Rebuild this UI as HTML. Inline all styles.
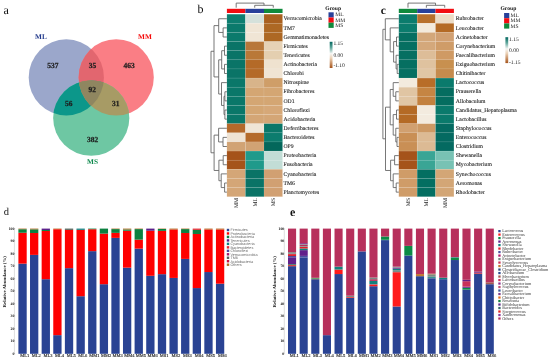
<!DOCTYPE html>
<html><head><meta charset="utf-8"><title>Figure</title>
<style>
html,body{margin:0;padding:0;background:#fff;}
body{width:550px;height:362px;overflow:hidden;}
svg{display:block;will-change:transform;text-rendering:geometricPrecision;font-family:"Liberation Serif", serif;}
</style></head>
<body>
<svg width="550" height="362" viewBox="0 0 550 362">
<rect width="550" height="362" fill="#fff"/>
<defs><clipPath id="cML"><ellipse cx="66.3" cy="77.4" rx="37.6" ry="38.1" fill="#000" /></clipPath><clipPath id="cMM"><ellipse cx="116.2" cy="77.4" rx="37.6" ry="38.2" fill="#000" /></clipPath><clipPath id="cMS"><ellipse cx="91.25" cy="118.1" rx="38.1" ry="37.7" fill="#000" /></clipPath></defs>
<ellipse cx="66.3" cy="77.4" rx="37.6" ry="38.1" fill="#9ba7cb" />
<ellipse cx="116.2" cy="77.4" rx="37.6" ry="38.2" fill="#fa7e85" />
<ellipse cx="91.25" cy="118.1" rx="38.1" ry="37.7" fill="#6ec7a3" />
<g clip-path="url(#cML)"><ellipse cx="116.2" cy="77.4" rx="37.6" ry="38.2" fill="#e2666f" /><ellipse cx="91.25" cy="118.1" rx="38.1" ry="37.7" fill="#0c978a" /></g>
<g clip-path="url(#cMM)"><ellipse cx="91.25" cy="118.1" rx="38.1" ry="37.7" fill="#a79b65" /></g>
<g clip-path="url(#cML)"><g clip-path="url(#cMM)"><ellipse cx="91.25" cy="118.1" rx="38.1" ry="37.7" fill="#8f8660" /></g></g>
<text transform="translate(52.9,68.0) scale(0.97,1)" text-anchor="middle" font-size="7.7" font-weight="bold" fill="#1e1e1e" stroke="#1e1e1e" stroke-width="0.25">537</text>
<text transform="translate(92.4,68.3) scale(0.97,1)" text-anchor="middle" font-size="7.7" font-weight="bold" fill="#1e1e1e" stroke="#1e1e1e" stroke-width="0.25">35</text>
<text transform="translate(129.1,68.4) scale(0.97,1)" text-anchor="middle" font-size="7.7" font-weight="bold" fill="#1e1e1e" stroke="#1e1e1e" stroke-width="0.25">463</text>
<text transform="translate(92.2,92.0) scale(0.97,1)" text-anchor="middle" font-size="7.7" font-weight="bold" fill="#1e1e1e" stroke="#1e1e1e" stroke-width="0.25">92</text>
<text transform="translate(68.8,106.2) scale(0.97,1)" text-anchor="middle" font-size="7.7" font-weight="bold" fill="#1e1e1e" stroke="#1e1e1e" stroke-width="0.25">56</text>
<text transform="translate(115.8,106.2) scale(0.97,1)" text-anchor="middle" font-size="7.7" font-weight="bold" fill="#1e1e1e" stroke="#1e1e1e" stroke-width="0.25">31</text>
<text transform="translate(92.6,141.8) scale(0.97,1)" text-anchor="middle" font-size="7.7" font-weight="bold" fill="#1e1e1e" stroke="#1e1e1e" stroke-width="0.25">382</text>
<text x="40.9" y="38.6" text-anchor="middle" font-size="7.3" font-weight="bold" fill="#233a8c">ML</text>
<text x="145.0" y="38.5" text-anchor="middle" font-size="7.3" font-weight="bold" fill="#f50a0a">MM</text>
<text x="92.6" y="163.8" text-anchor="middle" font-size="7.3" font-weight="bold" fill="#0f8a4e">MS</text>
<text x="3.6" y="13.8" font-size="12" fill="#111">a</text>
<text x="197.6" y="13.4" font-size="12" fill="#111">b</text>
<text x="380.8" y="13.5" font-size="11.5" font-weight="bold" fill="#111">c</text>
<text x="3.7" y="215.2" font-size="10.5" fill="#111">d</text>
<text x="290" y="215.7" font-size="12" font-weight="bold" fill="#111">e</text>
<rect x="226.90" y="8.8" width="18.55" height="4.2" fill="#f20d12"/>
<rect x="245.45" y="8.8" width="18.55" height="4.2" fill="#28409a"/>
<rect x="264.00" y="8.8" width="18.55" height="4.2" fill="#0f8a3c"/>
<rect x="226.90" y="14.20" width="18.55" height="9.12" fill="#0d7e70" stroke="rgba(255,255,255,0.16)" stroke-width="0.5"/>
<rect x="245.45" y="14.20" width="18.55" height="9.12" fill="#d5e1db" stroke="rgba(255,255,255,0.16)" stroke-width="0.5"/>
<rect x="264.00" y="14.20" width="18.55" height="9.12" fill="#a9601f" stroke="rgba(255,255,255,0.16)" stroke-width="0.5"/>
<text x="283.5" y="20.46" font-size="5.7" fill="#2a2a2a" stroke="#2a2a2a" stroke-width="0.12">Verrucomicrobia</text>
<rect x="226.90" y="23.32" width="18.55" height="9.12" fill="#0b7a6c" stroke="rgba(255,255,255,0.16)" stroke-width="0.5"/>
<rect x="245.45" y="23.32" width="18.55" height="9.12" fill="#f0e5d5" stroke="rgba(255,255,255,0.16)" stroke-width="0.5"/>
<rect x="264.00" y="23.32" width="18.55" height="9.12" fill="#ad6824" stroke="rgba(255,255,255,0.16)" stroke-width="0.5"/>
<text x="283.5" y="29.59" font-size="5.7" fill="#2a2a2a" stroke="#2a2a2a" stroke-width="0.12">TM7</text>
<rect x="226.90" y="32.45" width="18.55" height="9.12" fill="#0b7a6c" stroke="rgba(255,255,255,0.16)" stroke-width="0.5"/>
<rect x="245.45" y="32.45" width="18.55" height="9.12" fill="#f0e5d5" stroke="rgba(255,255,255,0.16)" stroke-width="0.5"/>
<rect x="264.00" y="32.45" width="18.55" height="9.12" fill="#ad6824" stroke="rgba(255,255,255,0.16)" stroke-width="0.5"/>
<text x="283.5" y="38.71" font-size="5.7" fill="#2a2a2a" stroke="#2a2a2a" stroke-width="0.12">Gemmatimonadetes</text>
<rect x="226.90" y="41.58" width="18.55" height="9.12" fill="#0a7467" stroke="rgba(255,255,255,0.16)" stroke-width="0.5"/>
<rect x="245.45" y="41.58" width="18.55" height="9.12" fill="#b8773a" stroke="rgba(255,255,255,0.16)" stroke-width="0.5"/>
<rect x="264.00" y="41.58" width="18.55" height="9.12" fill="#e6d2b6" stroke="rgba(255,255,255,0.16)" stroke-width="0.5"/>
<text x="283.5" y="47.84" font-size="5.7" fill="#2a2a2a" stroke="#2a2a2a" stroke-width="0.12">Firmicutes</text>
<rect x="226.90" y="50.70" width="18.55" height="9.12" fill="#0a7467" stroke="rgba(255,255,255,0.16)" stroke-width="0.5"/>
<rect x="245.45" y="50.70" width="18.55" height="9.12" fill="#b97838" stroke="rgba(255,255,255,0.16)" stroke-width="0.5"/>
<rect x="264.00" y="50.70" width="18.55" height="9.12" fill="#e4cfb0" stroke="rgba(255,255,255,0.16)" stroke-width="0.5"/>
<text x="283.5" y="56.96" font-size="5.7" fill="#2a2a2a" stroke="#2a2a2a" stroke-width="0.12">Tenericutes</text>
<rect x="226.90" y="59.83" width="18.55" height="9.12" fill="#0a7467" stroke="rgba(255,255,255,0.16)" stroke-width="0.5"/>
<rect x="245.45" y="59.83" width="18.55" height="9.12" fill="#b46a28" stroke="rgba(255,255,255,0.16)" stroke-width="0.5"/>
<rect x="264.00" y="59.83" width="18.55" height="9.12" fill="#efe2cf" stroke="rgba(255,255,255,0.16)" stroke-width="0.5"/>
<text x="283.5" y="66.09" font-size="5.7" fill="#2a2a2a" stroke="#2a2a2a" stroke-width="0.12">Actinobacteria</text>
<rect x="226.90" y="68.95" width="18.55" height="9.12" fill="#0a7467" stroke="rgba(255,255,255,0.16)" stroke-width="0.5"/>
<rect x="245.45" y="68.95" width="18.55" height="9.12" fill="#b46a28" stroke="rgba(255,255,255,0.16)" stroke-width="0.5"/>
<rect x="264.00" y="68.95" width="18.55" height="9.12" fill="#f0e4d3" stroke="rgba(255,255,255,0.16)" stroke-width="0.5"/>
<text x="283.5" y="75.21" font-size="5.7" fill="#2a2a2a" stroke="#2a2a2a" stroke-width="0.12">Chlorobi</text>
<rect x="226.90" y="78.08" width="18.55" height="9.12" fill="#0a7769" stroke="rgba(255,255,255,0.16)" stroke-width="0.5"/>
<rect x="245.45" y="78.08" width="18.55" height="9.12" fill="#d8b48a" stroke="rgba(255,255,255,0.16)" stroke-width="0.5"/>
<rect x="264.00" y="78.08" width="18.55" height="9.12" fill="#cf9e68" stroke="rgba(255,255,255,0.16)" stroke-width="0.5"/>
<text x="283.5" y="84.34" font-size="5.7" fill="#2a2a2a" stroke="#2a2a2a" stroke-width="0.12">Nitrospirae</text>
<rect x="226.90" y="87.20" width="18.55" height="9.12" fill="#0a7769" stroke="rgba(255,255,255,0.16)" stroke-width="0.5"/>
<rect x="245.45" y="87.20" width="18.55" height="9.12" fill="#d4a673" stroke="rgba(255,255,255,0.16)" stroke-width="0.5"/>
<rect x="264.00" y="87.20" width="18.55" height="9.12" fill="#d4a673" stroke="rgba(255,255,255,0.16)" stroke-width="0.5"/>
<text x="283.5" y="93.46" font-size="5.7" fill="#2a2a2a" stroke="#2a2a2a" stroke-width="0.12">Fibrobacteres</text>
<rect x="226.90" y="96.33" width="18.55" height="9.12" fill="#0a7769" stroke="rgba(255,255,255,0.16)" stroke-width="0.5"/>
<rect x="245.45" y="96.33" width="18.55" height="9.12" fill="#d4a673" stroke="rgba(255,255,255,0.16)" stroke-width="0.5"/>
<rect x="264.00" y="96.33" width="18.55" height="9.12" fill="#d4a673" stroke="rgba(255,255,255,0.16)" stroke-width="0.5"/>
<text x="283.5" y="102.59" font-size="5.7" fill="#2a2a2a" stroke="#2a2a2a" stroke-width="0.12">OD1</text>
<rect x="226.90" y="105.45" width="18.55" height="9.12" fill="#0a7769" stroke="rgba(255,255,255,0.16)" stroke-width="0.5"/>
<rect x="245.45" y="105.45" width="18.55" height="9.12" fill="#d4a673" stroke="rgba(255,255,255,0.16)" stroke-width="0.5"/>
<rect x="264.00" y="105.45" width="18.55" height="9.12" fill="#d6a878" stroke="rgba(255,255,255,0.16)" stroke-width="0.5"/>
<text x="283.5" y="111.71" font-size="5.7" fill="#2a2a2a" stroke="#2a2a2a" stroke-width="0.12">Chloroflexi</text>
<rect x="226.90" y="114.58" width="18.55" height="9.12" fill="#0a7769" stroke="rgba(255,255,255,0.16)" stroke-width="0.5"/>
<rect x="245.45" y="114.58" width="18.55" height="9.12" fill="#d4a676" stroke="rgba(255,255,255,0.16)" stroke-width="0.5"/>
<rect x="264.00" y="114.58" width="18.55" height="9.12" fill="#d4a676" stroke="rgba(255,255,255,0.16)" stroke-width="0.5"/>
<text x="283.5" y="120.84" font-size="5.7" fill="#2a2a2a" stroke="#2a2a2a" stroke-width="0.12">Acidobacteria</text>
<rect x="226.90" y="123.70" width="18.55" height="9.12" fill="#b3692b" stroke="rgba(255,255,255,0.16)" stroke-width="0.5"/>
<rect x="245.45" y="123.70" width="18.55" height="9.12" fill="#efe5d6" stroke="rgba(255,255,255,0.16)" stroke-width="0.5"/>
<rect x="264.00" y="123.70" width="18.55" height="9.12" fill="#0a7769" stroke="rgba(255,255,255,0.16)" stroke-width="0.5"/>
<text x="283.5" y="129.96" font-size="5.7" fill="#2a2a2a" stroke="#2a2a2a" stroke-width="0.12">Deferribacteres</text>
<rect x="226.90" y="132.82" width="18.55" height="9.12" fill="#efe3d3" stroke="rgba(255,255,255,0.16)" stroke-width="0.5"/>
<rect x="245.45" y="132.82" width="18.55" height="9.12" fill="#b46a2a" stroke="rgba(255,255,255,0.16)" stroke-width="0.5"/>
<rect x="264.00" y="132.82" width="18.55" height="9.12" fill="#0c7c6e" stroke="rgba(255,255,255,0.16)" stroke-width="0.5"/>
<text x="283.5" y="139.09" font-size="5.7" fill="#2a2a2a" stroke="#2a2a2a" stroke-width="0.12">Bacteroidetes</text>
<rect x="226.90" y="141.95" width="18.55" height="9.12" fill="#d1a374" stroke="rgba(255,255,255,0.16)" stroke-width="0.5"/>
<rect x="245.45" y="141.95" width="18.55" height="9.12" fill="#d1a374" stroke="rgba(255,255,255,0.16)" stroke-width="0.5"/>
<rect x="264.00" y="141.95" width="18.55" height="9.12" fill="#03675b" stroke="rgba(255,255,255,0.16)" stroke-width="0.5"/>
<text x="283.5" y="148.21" font-size="5.7" fill="#2a2a2a" stroke="#2a2a2a" stroke-width="0.12">OP9</text>
<rect x="226.90" y="151.07" width="18.55" height="9.12" fill="#a5531a" stroke="rgba(255,255,255,0.16)" stroke-width="0.5"/>
<rect x="245.45" y="151.07" width="18.55" height="9.12" fill="#1f9a8b" stroke="rgba(255,255,255,0.16)" stroke-width="0.5"/>
<rect x="264.00" y="151.07" width="18.55" height="9.12" fill="#c2ddd6" stroke="rgba(255,255,255,0.16)" stroke-width="0.5"/>
<text x="283.5" y="157.34" font-size="5.7" fill="#2a2a2a" stroke="#2a2a2a" stroke-width="0.12">Proteobacteria</text>
<rect x="226.90" y="160.20" width="18.55" height="9.12" fill="#a5531a" stroke="rgba(255,255,255,0.16)" stroke-width="0.5"/>
<rect x="245.45" y="160.20" width="18.55" height="9.12" fill="#1f9a8b" stroke="rgba(255,255,255,0.16)" stroke-width="0.5"/>
<rect x="264.00" y="160.20" width="18.55" height="9.12" fill="#c2ddd6" stroke="rgba(255,255,255,0.16)" stroke-width="0.5"/>
<text x="283.5" y="166.46" font-size="5.7" fill="#2a2a2a" stroke="#2a2a2a" stroke-width="0.12">Fusobacteria</text>
<rect x="226.90" y="169.32" width="18.55" height="9.12" fill="#d4a677" stroke="rgba(255,255,255,0.16)" stroke-width="0.5"/>
<rect x="245.45" y="169.32" width="18.55" height="9.12" fill="#0a7366" stroke="rgba(255,255,255,0.16)" stroke-width="0.5"/>
<rect x="264.00" y="169.32" width="18.55" height="9.12" fill="#d1a072" stroke="rgba(255,255,255,0.16)" stroke-width="0.5"/>
<text x="283.5" y="175.59" font-size="5.7" fill="#2a2a2a" stroke="#2a2a2a" stroke-width="0.12">Cyanobacteria</text>
<rect x="226.90" y="178.45" width="18.55" height="9.12" fill="#d4a677" stroke="rgba(255,255,255,0.16)" stroke-width="0.5"/>
<rect x="245.45" y="178.45" width="18.55" height="9.12" fill="#0a7366" stroke="rgba(255,255,255,0.16)" stroke-width="0.5"/>
<rect x="264.00" y="178.45" width="18.55" height="9.12" fill="#d1a072" stroke="rgba(255,255,255,0.16)" stroke-width="0.5"/>
<text x="283.5" y="184.71" font-size="5.7" fill="#2a2a2a" stroke="#2a2a2a" stroke-width="0.12">TM6</text>
<rect x="226.90" y="187.57" width="18.55" height="9.12" fill="#d4a677" stroke="rgba(255,255,255,0.16)" stroke-width="0.5"/>
<rect x="245.45" y="187.57" width="18.55" height="9.12" fill="#0a7366" stroke="rgba(255,255,255,0.16)" stroke-width="0.5"/>
<rect x="264.00" y="187.57" width="18.55" height="9.12" fill="#d1a072" stroke="rgba(255,255,255,0.16)" stroke-width="0.5"/>
<text x="283.5" y="193.84" font-size="5.7" fill="#2a2a2a" stroke="#2a2a2a" stroke-width="0.12">Planctomycetes</text>
<text transform="translate(238.08,197.9) rotate(-90)" text-anchor="end" font-size="5.7" fill="#222">MM</text>
<text transform="translate(256.62,197.9) rotate(-90)" text-anchor="end" font-size="5.7" fill="#222">ML</text>
<text transform="translate(275.17,197.9) rotate(-90)" text-anchor="end" font-size="5.7" fill="#222">MS</text>
<rect x="398.80" y="8.8" width="18.37" height="4.2" fill="#0f8a3c"/>
<rect x="417.17" y="8.8" width="18.37" height="4.2" fill="#28409a"/>
<rect x="435.54" y="8.8" width="18.37" height="4.2" fill="#f20d12"/>
<rect x="398.80" y="14.20" width="18.37" height="9.12" fill="#0b7c6d" stroke="rgba(255,255,255,0.16)" stroke-width="0.5"/>
<rect x="417.17" y="14.20" width="18.37" height="9.12" fill="#b8702c" stroke="rgba(255,255,255,0.16)" stroke-width="0.5"/>
<rect x="435.54" y="14.20" width="18.37" height="9.12" fill="#ecdcc6" stroke="rgba(255,255,255,0.16)" stroke-width="0.5"/>
<text x="455.8" y="20.46" font-size="5.7" fill="#2a2a2a" stroke="#2a2a2a" stroke-width="0.12">Rubrobacter</text>
<rect x="398.80" y="23.32" width="18.37" height="9.12" fill="#0b7c6d" stroke="rgba(255,255,255,0.16)" stroke-width="0.5"/>
<rect x="417.17" y="23.32" width="18.37" height="9.12" fill="#f3eadc" stroke="rgba(255,255,255,0.16)" stroke-width="0.5"/>
<rect x="435.54" y="23.32" width="18.37" height="9.12" fill="#b46a25" stroke="rgba(255,255,255,0.16)" stroke-width="0.5"/>
<text x="455.8" y="29.59" font-size="5.7" fill="#2a2a2a" stroke="#2a2a2a" stroke-width="0.12">Leucobacter</text>
<rect x="398.80" y="32.45" width="18.37" height="9.12" fill="#066f61" stroke="rgba(255,255,255,0.16)" stroke-width="0.5"/>
<rect x="417.17" y="32.45" width="18.37" height="9.12" fill="#d3a77a" stroke="rgba(255,255,255,0.16)" stroke-width="0.5"/>
<rect x="435.54" y="32.45" width="18.37" height="9.12" fill="#d1a072" stroke="rgba(255,255,255,0.16)" stroke-width="0.5"/>
<text x="455.8" y="38.71" font-size="5.7" fill="#2a2a2a" stroke="#2a2a2a" stroke-width="0.12">Acinetobacter</text>
<rect x="398.80" y="41.58" width="18.37" height="9.12" fill="#066f61" stroke="rgba(255,255,255,0.16)" stroke-width="0.5"/>
<rect x="417.17" y="41.58" width="18.37" height="9.12" fill="#d4a87b" stroke="rgba(255,255,255,0.16)" stroke-width="0.5"/>
<rect x="435.54" y="41.58" width="18.37" height="9.12" fill="#cf9c68" stroke="rgba(255,255,255,0.16)" stroke-width="0.5"/>
<text x="455.8" y="47.84" font-size="5.7" fill="#2a2a2a" stroke="#2a2a2a" stroke-width="0.12">Corynebacterium</text>
<rect x="398.80" y="50.70" width="18.37" height="9.12" fill="#066f61" stroke="rgba(255,255,255,0.16)" stroke-width="0.5"/>
<rect x="417.17" y="50.70" width="18.37" height="9.12" fill="#ddbd98" stroke="rgba(255,255,255,0.16)" stroke-width="0.5"/>
<rect x="435.54" y="50.70" width="18.37" height="9.12" fill="#cf9a64" stroke="rgba(255,255,255,0.16)" stroke-width="0.5"/>
<text x="455.8" y="56.96" font-size="5.7" fill="#2a2a2a" stroke="#2a2a2a" stroke-width="0.12">Faecalibacterium</text>
<rect x="398.80" y="59.83" width="18.37" height="9.12" fill="#066f61" stroke="rgba(255,255,255,0.16)" stroke-width="0.5"/>
<rect x="417.17" y="59.83" width="18.37" height="9.12" fill="#dfc29f" stroke="rgba(255,255,255,0.16)" stroke-width="0.5"/>
<rect x="435.54" y="59.83" width="18.37" height="9.12" fill="#c8904f" stroke="rgba(255,255,255,0.16)" stroke-width="0.5"/>
<text x="455.8" y="66.09" font-size="5.7" fill="#2a2a2a" stroke="#2a2a2a" stroke-width="0.12">Exiguobacterium</text>
<rect x="398.80" y="68.95" width="18.37" height="9.12" fill="#066f61" stroke="rgba(255,255,255,0.16)" stroke-width="0.5"/>
<rect x="417.17" y="68.95" width="18.37" height="9.12" fill="#e0c6a4" stroke="rgba(255,255,255,0.16)" stroke-width="0.5"/>
<rect x="435.54" y="68.95" width="18.37" height="9.12" fill="#c58b4d" stroke="rgba(255,255,255,0.16)" stroke-width="0.5"/>
<text x="455.8" y="75.21" font-size="5.7" fill="#2a2a2a" stroke="#2a2a2a" stroke-width="0.12">Chitinibacter</text>
<rect x="398.80" y="78.08" width="18.37" height="9.12" fill="#f3ebde" stroke="rgba(255,255,255,0.16)" stroke-width="0.5"/>
<rect x="417.17" y="78.08" width="18.37" height="9.12" fill="#b86d28" stroke="rgba(255,255,255,0.16)" stroke-width="0.5"/>
<rect x="435.54" y="78.08" width="18.37" height="9.12" fill="#0a7a6c" stroke="rgba(255,255,255,0.16)" stroke-width="0.5"/>
<text x="455.8" y="84.34" font-size="5.7" fill="#2a2a2a" stroke="#2a2a2a" stroke-width="0.12">Lactococcus</text>
<rect x="398.80" y="87.20" width="18.37" height="9.12" fill="#e0c5a3" stroke="rgba(255,255,255,0.16)" stroke-width="0.5"/>
<rect x="417.17" y="87.20" width="18.37" height="9.12" fill="#c58543" stroke="rgba(255,255,255,0.16)" stroke-width="0.5"/>
<rect x="435.54" y="87.20" width="18.37" height="9.12" fill="#056d60" stroke="rgba(255,255,255,0.16)" stroke-width="0.5"/>
<text x="455.8" y="93.46" font-size="5.7" fill="#2a2a2a" stroke="#2a2a2a" stroke-width="0.12">Prauserella</text>
<rect x="398.80" y="96.33" width="18.37" height="9.12" fill="#e0c6a5" stroke="rgba(255,255,255,0.16)" stroke-width="0.5"/>
<rect x="417.17" y="96.33" width="18.37" height="9.12" fill="#c3813f" stroke="rgba(255,255,255,0.16)" stroke-width="0.5"/>
<rect x="435.54" y="96.33" width="18.37" height="9.12" fill="#056d60" stroke="rgba(255,255,255,0.16)" stroke-width="0.5"/>
<text x="455.8" y="102.59" font-size="5.7" fill="#2a2a2a" stroke="#2a2a2a" stroke-width="0.12">Allobaculum</text>
<rect x="398.80" y="105.45" width="18.37" height="9.12" fill="#b46a25" stroke="rgba(255,255,255,0.16)" stroke-width="0.5"/>
<rect x="417.17" y="105.45" width="18.37" height="9.12" fill="#f3ebdf" stroke="rgba(255,255,255,0.16)" stroke-width="0.5"/>
<rect x="435.54" y="105.45" width="18.37" height="9.12" fill="#0a7a6c" stroke="rgba(255,255,255,0.16)" stroke-width="0.5"/>
<text x="455.8" y="111.71" font-size="5.7" fill="#2a2a2a" stroke="#2a2a2a" stroke-width="0.12">Candidatus_Hepatoplasma</text>
<rect x="398.80" y="114.58" width="18.37" height="9.12" fill="#b46a25" stroke="rgba(255,255,255,0.16)" stroke-width="0.5"/>
<rect x="417.17" y="114.58" width="18.37" height="9.12" fill="#f3ebdf" stroke="rgba(255,255,255,0.16)" stroke-width="0.5"/>
<rect x="435.54" y="114.58" width="18.37" height="9.12" fill="#0a7a6c" stroke="rgba(255,255,255,0.16)" stroke-width="0.5"/>
<text x="455.8" y="120.84" font-size="5.7" fill="#2a2a2a" stroke="#2a2a2a" stroke-width="0.12">Lactobacillus</text>
<rect x="398.80" y="123.70" width="18.37" height="9.12" fill="#d1a070" stroke="rgba(255,255,255,0.16)" stroke-width="0.5"/>
<rect x="417.17" y="123.70" width="18.37" height="9.12" fill="#cd9964" stroke="rgba(255,255,255,0.16)" stroke-width="0.5"/>
<rect x="435.54" y="123.70" width="18.37" height="9.12" fill="#046a61" stroke="rgba(255,255,255,0.16)" stroke-width="0.5"/>
<text x="455.8" y="129.96" font-size="5.7" fill="#2a2a2a" stroke="#2a2a2a" stroke-width="0.12">Staphylococcus</text>
<rect x="398.80" y="132.82" width="18.37" height="9.12" fill="#c98f55" stroke="rgba(255,255,255,0.16)" stroke-width="0.5"/>
<rect x="417.17" y="132.82" width="18.37" height="9.12" fill="#dcba94" stroke="rgba(255,255,255,0.16)" stroke-width="0.5"/>
<rect x="435.54" y="132.82" width="18.37" height="9.12" fill="#046a61" stroke="rgba(255,255,255,0.16)" stroke-width="0.5"/>
<text x="455.8" y="139.09" font-size="5.7" fill="#2a2a2a" stroke="#2a2a2a" stroke-width="0.12">Enterococcus</text>
<rect x="398.80" y="141.95" width="18.37" height="9.12" fill="#c98f55" stroke="rgba(255,255,255,0.16)" stroke-width="0.5"/>
<rect x="417.17" y="141.95" width="18.37" height="9.12" fill="#dcba94" stroke="rgba(255,255,255,0.16)" stroke-width="0.5"/>
<rect x="435.54" y="141.95" width="18.37" height="9.12" fill="#046a61" stroke="rgba(255,255,255,0.16)" stroke-width="0.5"/>
<text x="455.8" y="148.21" font-size="5.7" fill="#2a2a2a" stroke="#2a2a2a" stroke-width="0.12">Clostridium</text>
<rect x="398.80" y="151.07" width="18.37" height="9.12" fill="#a5531a" stroke="rgba(255,255,255,0.16)" stroke-width="0.5"/>
<rect x="417.17" y="151.07" width="18.37" height="9.12" fill="#3aa595" stroke="rgba(255,255,255,0.16)" stroke-width="0.5"/>
<rect x="435.54" y="151.07" width="18.37" height="9.12" fill="#78c2b4" stroke="rgba(255,255,255,0.16)" stroke-width="0.5"/>
<text x="455.8" y="157.34" font-size="5.7" fill="#2a2a2a" stroke="#2a2a2a" stroke-width="0.12">Shewanella</text>
<rect x="398.80" y="160.20" width="18.37" height="9.12" fill="#a5531a" stroke="rgba(255,255,255,0.16)" stroke-width="0.5"/>
<rect x="417.17" y="160.20" width="18.37" height="9.12" fill="#3aa595" stroke="rgba(255,255,255,0.16)" stroke-width="0.5"/>
<rect x="435.54" y="160.20" width="18.37" height="9.12" fill="#78c2b4" stroke="rgba(255,255,255,0.16)" stroke-width="0.5"/>
<text x="455.8" y="166.46" font-size="5.7" fill="#2a2a2a" stroke="#2a2a2a" stroke-width="0.12">Mycobacterium</text>
<rect x="398.80" y="169.32" width="18.37" height="9.12" fill="#cf9c68" stroke="rgba(255,255,255,0.16)" stroke-width="0.5"/>
<rect x="417.17" y="169.32" width="18.37" height="9.12" fill="#046e61" stroke="rgba(255,255,255,0.16)" stroke-width="0.5"/>
<rect x="435.54" y="169.32" width="18.37" height="9.12" fill="#d3a676" stroke="rgba(255,255,255,0.16)" stroke-width="0.5"/>
<text x="455.8" y="175.59" font-size="5.7" fill="#2a2a2a" stroke="#2a2a2a" stroke-width="0.12">Synechococcus</text>
<rect x="398.80" y="178.45" width="18.37" height="9.12" fill="#cf9c68" stroke="rgba(255,255,255,0.16)" stroke-width="0.5"/>
<rect x="417.17" y="178.45" width="18.37" height="9.12" fill="#046e61" stroke="rgba(255,255,255,0.16)" stroke-width="0.5"/>
<rect x="435.54" y="178.45" width="18.37" height="9.12" fill="#d3a676" stroke="rgba(255,255,255,0.16)" stroke-width="0.5"/>
<text x="455.8" y="184.71" font-size="5.7" fill="#2a2a2a" stroke="#2a2a2a" stroke-width="0.12">Aeromonas</text>
<rect x="398.80" y="187.57" width="18.37" height="9.12" fill="#cf9c68" stroke="rgba(255,255,255,0.16)" stroke-width="0.5"/>
<rect x="417.17" y="187.57" width="18.37" height="9.12" fill="#046e61" stroke="rgba(255,255,255,0.16)" stroke-width="0.5"/>
<rect x="435.54" y="187.57" width="18.37" height="9.12" fill="#d3a676" stroke="rgba(255,255,255,0.16)" stroke-width="0.5"/>
<text x="455.8" y="193.84" font-size="5.7" fill="#2a2a2a" stroke="#2a2a2a" stroke-width="0.12">Rhodobacter</text>
<text transform="translate(409.88,197.9) rotate(-90)" text-anchor="end" font-size="5.7" fill="#222">MS</text>
<text transform="translate(428.25,197.9) rotate(-90)" text-anchor="end" font-size="5.7" fill="#222">ML</text>
<text transform="translate(446.62,197.9) rotate(-90)" text-anchor="end" font-size="5.7" fill="#222">MM</text>
<path d="M226.90,27.89H223.10V37.01H226.90M226.90,18.76H218.70V32.45H223.10M226.90,46.14H224.50V55.26H226.90M226.90,64.39H224.50V73.51H226.90M224.50,50.70H221.70V68.95H224.50M226.90,91.76H224.90V100.89H226.90M226.90,110.01H224.90V119.14H226.90M224.90,96.33H224.00V114.58H224.90M226.90,82.64H221.50V105.45H224.00M221.70,59.83H218.70V94.04H221.50M218.70,25.61H214.00V76.93H218.70M226.90,137.39H223.00V146.51H226.90M226.90,128.26H218.60V141.95H223.00M226.90,155.64H223.20V164.76H226.90M226.90,183.01H224.60V192.14H226.90M226.90,173.89H221.20V187.57H224.60M223.20,160.20H218.90V180.73H221.20M218.60,135.11H214.10V170.47H218.90M214.00,51.27H211.00V152.79H214.10" fill="none" stroke="#606060" stroke-width="0.85"/>
<path d="M398.80,37.01H396.50V46.14H398.80M398.80,64.39H397.20V73.51H398.80M398.80,55.26H396.10V68.95H397.20M396.50,41.58H393.60V62.11H396.10M398.80,27.89H390.20V51.84H393.60M398.80,18.76H385.30V39.86H390.20M398.80,91.76H395.80V100.89H398.80M398.80,82.64H393.20V96.33H395.80M398.80,110.01H396.50V119.14H398.80M398.80,137.39H397.00V146.51H398.80M398.80,128.26H395.80V141.95H397.00M396.50,114.58H393.20V135.11H395.80M393.20,89.48H390.20V124.84H393.20M398.80,155.64H394.60V164.76H398.80M398.80,183.01H396.20V192.14H398.80M398.80,173.89H393.20V187.57H396.20M394.60,160.20H390.60V180.73H393.20M390.20,107.16H385.50V170.47H390.60M385.30,29.31H382.90V138.81H385.50" fill="none" stroke="#606060" stroke-width="0.85"/>
<path d="M236.18,7.7V3.1H264.00V5.3M254.73,7.7V5.3H273.27V7.7" fill="none" stroke="#606060" stroke-width="0.85"/>
<path d="M407.99,7.7V3.1H435.54V5.3M426.36,7.7V5.3H444.73V7.7" fill="none" stroke="#606060" stroke-width="0.85"/>
<text x="325.3" y="9.70" font-size="5.6" font-weight="bold" fill="#111">Group</text>
<rect x="328.5" y="12.30" width="5.2" height="5.2" fill="#28409a"/>
<text x="335.3" y="16.40" font-size="5.5" fill="#222">ML</text>
<rect x="328.5" y="17.50" width="5.2" height="5.2" fill="#f20d12"/>
<text x="335.3" y="21.60" font-size="5.5" fill="#222">MM</text>
<rect x="328.5" y="22.70" width="5.2" height="5.2" fill="#0f8a3c"/>
<text x="335.3" y="26.80" font-size="5.5" fill="#222">MS</text>
<defs><linearGradient id="gb" x1="0" y1="0" x2="0" y2="1"><stop offset="0" stop-color="#01665e"/><stop offset="0.22" stop-color="#5fa79c"/><stop offset="0.45" stop-color="#f5f5f3"/><stop offset="0.62" stop-color="#ecd3b8"/><stop offset="1" stop-color="#a5531a"/></linearGradient></defs>
<rect x="329.7" y="41.8" width="2.8" height="26.200000000000003" fill="url(#gb)"/>
<text x="333.4" y="44.91" font-size="5.5" fill="#222">1.15</text>
<text x="333.4" y="56.75" font-size="5.5" fill="#222">0.00</text>
<text x="333.4" y="67.20" font-size="5.5" fill="#222">-1.10</text>
<text x="500.5" y="9.90" font-size="5.6" font-weight="bold" fill="#111">Group</text>
<rect x="504.1" y="13.00" width="5.2" height="5.2" fill="#28409a"/>
<text x="510.5" y="17.10" font-size="5.5" fill="#222">ML</text>
<rect x="504.1" y="18.20" width="5.2" height="5.2" fill="#f20d12"/>
<text x="510.5" y="22.30" font-size="5.5" fill="#222">MM</text>
<rect x="504.1" y="23.40" width="5.2" height="5.2" fill="#0f8a3c"/>
<text x="510.5" y="27.50" font-size="5.5" fill="#222">MS</text>
<defs><linearGradient id="gc" x1="0" y1="0" x2="0" y2="1"><stop offset="0" stop-color="#01665e"/><stop offset="0.22" stop-color="#5fa79c"/><stop offset="0.45" stop-color="#f5f5f3"/><stop offset="0.62" stop-color="#ecd3b8"/><stop offset="1" stop-color="#a5531a"/></linearGradient></defs>
<rect x="505.4" y="37.2" width="2.8" height="25.9" fill="url(#gc)"/>
<text x="509.0" y="40.71" font-size="5.5" fill="#222">1.15</text>
<text x="509.0" y="52.31" font-size="5.5" fill="#222">0.00</text>
<text x="509.0" y="64.22" font-size="5.5" fill="#222">-1.15</text>
<rect x="18.40" y="263.66" width="8.3" height="90.14" fill="#2a4393"/>
<rect x="18.40" y="232.73" width="8.3" height="30.92" fill="#fe0000"/>
<rect x="18.40" y="229.23" width="8.3" height="3.51" fill="#0b8040"/>
<rect x="18.40" y="228.60" width="8.3" height="0.63" fill="#b0661e"/>
<rect x="30.02" y="254.89" width="8.3" height="98.91" fill="#2a4393"/>
<rect x="30.02" y="232.98" width="8.3" height="21.91" fill="#fe0000"/>
<rect x="30.02" y="229.35" width="8.3" height="3.63" fill="#0b8040"/>
<rect x="30.02" y="228.60" width="8.3" height="0.75" fill="#b0661e"/>
<rect x="41.64" y="279.18" width="8.3" height="74.62" fill="#2a4393"/>
<rect x="41.64" y="230.98" width="8.3" height="48.20" fill="#fe0000"/>
<rect x="41.64" y="229.98" width="8.3" height="1.00" fill="#0b8040"/>
<rect x="41.64" y="228.60" width="8.3" height="1.38" fill="#5a1f8a"/>
<rect x="53.26" y="335.15" width="8.3" height="18.65" fill="#2a4393"/>
<rect x="53.26" y="229.23" width="8.3" height="105.92" fill="#fe0000"/>
<rect x="53.26" y="228.60" width="8.3" height="0.63" fill="#b0661e"/>
<rect x="64.88" y="268.16" width="8.3" height="85.64" fill="#2a4393"/>
<rect x="64.88" y="229.85" width="8.3" height="38.31" fill="#fe0000"/>
<rect x="64.88" y="228.60" width="8.3" height="1.25" fill="#4f5f55"/>
<rect x="76.50" y="296.21" width="8.3" height="57.59" fill="#2a4393"/>
<rect x="76.50" y="229.85" width="8.3" height="66.36" fill="#fe0000"/>
<rect x="76.50" y="228.60" width="8.3" height="1.25" fill="#0f8080"/>
<rect x="88.12" y="251.14" width="8.3" height="102.66" fill="#2a4393"/>
<rect x="88.12" y="229.23" width="8.3" height="21.91" fill="#fe0000"/>
<rect x="88.12" y="228.60" width="8.3" height="0.63" fill="#0b8040"/>
<rect x="99.74" y="284.19" width="8.3" height="69.61" fill="#2a4393"/>
<rect x="99.74" y="233.61" width="8.3" height="50.58" fill="#fe0000"/>
<rect x="99.74" y="228.60" width="8.3" height="5.01" fill="#0b8040"/>
<rect x="111.36" y="237.86" width="8.3" height="115.94" fill="#2a4393"/>
<rect x="111.36" y="232.86" width="8.3" height="5.01" fill="#fe0000"/>
<rect x="111.36" y="229.10" width="8.3" height="3.76" fill="#0b8040"/>
<rect x="111.36" y="228.60" width="8.3" height="0.50" fill="#b0661e"/>
<rect x="122.98" y="267.66" width="8.3" height="86.14" fill="#2a4393"/>
<rect x="122.98" y="230.73" width="8.3" height="36.93" fill="#fe0000"/>
<rect x="122.98" y="229.48" width="8.3" height="1.25" fill="#0b8040"/>
<rect x="122.98" y="228.60" width="8.3" height="0.88" fill="#b0661e"/>
<rect x="134.60" y="248.63" width="8.3" height="105.17" fill="#2a4393"/>
<rect x="134.60" y="239.62" width="8.3" height="9.01" fill="#fe0000"/>
<rect x="134.60" y="229.10" width="8.3" height="10.52" fill="#0b8040"/>
<rect x="134.60" y="228.60" width="8.3" height="0.50" fill="#b0661e"/>
<rect x="146.22" y="275.80" width="8.3" height="78.00" fill="#2a4393"/>
<rect x="146.22" y="230.73" width="8.3" height="45.07" fill="#fe0000"/>
<rect x="146.22" y="228.60" width="8.3" height="2.13" fill="#5a1f8a"/>
<rect x="157.84" y="274.17" width="8.3" height="79.63" fill="#2a4393"/>
<rect x="157.84" y="230.85" width="8.3" height="43.32" fill="#fe0000"/>
<rect x="157.84" y="228.98" width="8.3" height="1.88" fill="#0b8040"/>
<rect x="157.84" y="228.60" width="8.3" height="0.38" fill="#b0661e"/>
<rect x="169.46" y="277.93" width="8.3" height="75.87" fill="#2a4393"/>
<rect x="169.46" y="229.48" width="8.3" height="48.45" fill="#fe0000"/>
<rect x="169.46" y="228.60" width="8.3" height="0.88" fill="#b0661e"/>
<rect x="181.08" y="258.90" width="8.3" height="94.90" fill="#2a4393"/>
<rect x="181.08" y="232.98" width="8.3" height="25.92" fill="#fe0000"/>
<rect x="181.08" y="229.10" width="8.3" height="3.88" fill="#0b8040"/>
<rect x="181.08" y="228.60" width="8.3" height="0.50" fill="#b0661e"/>
<rect x="192.70" y="288.07" width="8.3" height="65.73" fill="#2a4393"/>
<rect x="192.70" y="233.98" width="8.3" height="54.09" fill="#fe0000"/>
<rect x="192.70" y="229.85" width="8.3" height="4.13" fill="#0b8040"/>
<rect x="192.70" y="228.60" width="8.3" height="1.25" fill="#e3262e"/>
<rect x="204.32" y="272.04" width="8.3" height="81.76" fill="#2a4393"/>
<rect x="204.32" y="229.48" width="8.3" height="42.57" fill="#fe0000"/>
<rect x="204.32" y="228.60" width="8.3" height="0.88" fill="#b0661e"/>
<rect x="215.94" y="283.69" width="8.3" height="70.11" fill="#2a4393"/>
<rect x="215.94" y="229.48" width="8.3" height="54.21" fill="#fe0000"/>
<rect x="215.94" y="228.60" width="8.3" height="0.88" fill="#b0661e"/>
<line x1="14.4" y1="228.60" x2="14.4" y2="353.8" stroke="#bbb" stroke-width="0.5"/>
<line x1="14.4" y1="353.80" x2="15.200000000000001" y2="353.80" stroke="#bbb" stroke-width="0.5"/>
<text x="14.5" y="354.80" text-anchor="end" font-size="3.9" font-weight="bold" fill="#222">0</text>
<line x1="14.4" y1="341.28" x2="15.200000000000001" y2="341.28" stroke="#bbb" stroke-width="0.5"/>
<text x="14.5" y="342.28" text-anchor="end" font-size="3.9" font-weight="bold" fill="#222">10</text>
<line x1="14.4" y1="328.76" x2="15.200000000000001" y2="328.76" stroke="#bbb" stroke-width="0.5"/>
<text x="14.5" y="329.76" text-anchor="end" font-size="3.9" font-weight="bold" fill="#222">20</text>
<line x1="14.4" y1="316.24" x2="15.200000000000001" y2="316.24" stroke="#bbb" stroke-width="0.5"/>
<text x="14.5" y="317.24" text-anchor="end" font-size="3.9" font-weight="bold" fill="#222">30</text>
<line x1="14.4" y1="303.72" x2="15.200000000000001" y2="303.72" stroke="#bbb" stroke-width="0.5"/>
<text x="14.5" y="304.72" text-anchor="end" font-size="3.9" font-weight="bold" fill="#222">40</text>
<line x1="14.4" y1="291.20" x2="15.200000000000001" y2="291.20" stroke="#bbb" stroke-width="0.5"/>
<text x="14.5" y="292.20" text-anchor="end" font-size="3.9" font-weight="bold" fill="#222">50</text>
<line x1="14.4" y1="278.68" x2="15.200000000000001" y2="278.68" stroke="#bbb" stroke-width="0.5"/>
<text x="14.5" y="279.68" text-anchor="end" font-size="3.9" font-weight="bold" fill="#222">60</text>
<line x1="14.4" y1="266.16" x2="15.200000000000001" y2="266.16" stroke="#bbb" stroke-width="0.5"/>
<text x="14.5" y="267.16" text-anchor="end" font-size="3.9" font-weight="bold" fill="#222">70</text>
<line x1="14.4" y1="253.64" x2="15.200000000000001" y2="253.64" stroke="#bbb" stroke-width="0.5"/>
<text x="14.5" y="254.64" text-anchor="end" font-size="3.9" font-weight="bold" fill="#222">80</text>
<line x1="14.4" y1="241.12" x2="15.200000000000001" y2="241.12" stroke="#bbb" stroke-width="0.5"/>
<text x="14.5" y="242.12" text-anchor="end" font-size="3.9" font-weight="bold" fill="#222">90</text>
<line x1="14.4" y1="228.60" x2="15.200000000000001" y2="228.60" stroke="#bbb" stroke-width="0.5"/>
<text x="14.5" y="229.60" text-anchor="end" font-size="3.9" font-weight="bold" fill="#222">100</text>
<text transform="translate(6.4,281.8) rotate(-90)" text-anchor="middle" font-size="4.5" font-weight="bold" fill="#222" textLength="51.5" lengthAdjust="spacingAndGlyphs">Relative Abundance (%)</text>
<text x="24.75" y="357.4" text-anchor="middle" font-size="4.5" fill="#111" stroke="#111" stroke-width="0.1">ML1</text>
<text x="36.37" y="357.4" text-anchor="middle" font-size="4.5" fill="#111" stroke="#111" stroke-width="0.1">ML2</text>
<text x="47.99" y="357.4" text-anchor="middle" font-size="4.5" fill="#111" stroke="#111" stroke-width="0.1">ML3</text>
<text x="59.61" y="357.4" text-anchor="middle" font-size="4.5" fill="#111" stroke="#111" stroke-width="0.1">ML4</text>
<text x="71.23" y="357.4" text-anchor="middle" font-size="4.5" fill="#111" stroke="#111" stroke-width="0.1">ML5</text>
<text x="82.85" y="357.4" text-anchor="middle" font-size="4.5" fill="#111" stroke="#111" stroke-width="0.1">ML6</text>
<text x="94.47" y="357.4" text-anchor="middle" font-size="4.5" fill="#111" stroke="#111" stroke-width="0.1">MM1</text>
<text x="106.09" y="357.4" text-anchor="middle" font-size="4.5" fill="#111" stroke="#111" stroke-width="0.1">MM2</text>
<text x="117.71" y="357.4" text-anchor="middle" font-size="4.5" fill="#111" stroke="#111" stroke-width="0.1">MM3</text>
<text x="129.33" y="357.4" text-anchor="middle" font-size="4.5" fill="#111" stroke="#111" stroke-width="0.1">MM4</text>
<text x="140.95" y="357.4" text-anchor="middle" font-size="4.5" fill="#111" stroke="#111" stroke-width="0.1">MM5</text>
<text x="152.57" y="357.4" text-anchor="middle" font-size="4.5" fill="#111" stroke="#111" stroke-width="0.1">MM6</text>
<text x="164.19" y="357.4" text-anchor="middle" font-size="4.5" fill="#111" stroke="#111" stroke-width="0.1">MS1</text>
<text x="175.81" y="357.4" text-anchor="middle" font-size="4.5" fill="#111" stroke="#111" stroke-width="0.1">MS2</text>
<text x="187.43" y="357.4" text-anchor="middle" font-size="4.5" fill="#111" stroke="#111" stroke-width="0.1">MS3</text>
<text x="199.05" y="357.4" text-anchor="middle" font-size="4.5" fill="#111" stroke="#111" stroke-width="0.1">MS4</text>
<text x="210.67" y="357.4" text-anchor="middle" font-size="4.5" fill="#111" stroke="#111" stroke-width="0.1">MS5</text>
<text x="222.29" y="357.4" text-anchor="middle" font-size="4.5" fill="#111" stroke="#111" stroke-width="0.1">MS6</text>
<rect x="226.8" y="228.80" width="2.4" height="2.4" fill="#2a4393"/>
<text x="230.4" y="231.30" font-family="Liberation Sans, sans-serif" font-size="3.75" fill="#6a6a6a">Firmicutes</text>
<rect x="226.8" y="232.27" width="2.4" height="2.4" fill="#fe0000"/>
<text x="230.4" y="234.77" font-family="Liberation Sans, sans-serif" font-size="3.75" fill="#6a6a6a">Proteobacteria</text>
<rect x="226.8" y="235.74" width="2.4" height="2.4" fill="#0b8040"/>
<text x="230.4" y="238.24" font-family="Liberation Sans, sans-serif" font-size="3.75" fill="#6a6a6a">Actinobacteria</text>
<rect x="226.8" y="239.21" width="2.4" height="2.4" fill="#5a1f8a"/>
<text x="230.4" y="241.71" font-family="Liberation Sans, sans-serif" font-size="3.75" fill="#6a6a6a">Tenericutes</text>
<rect x="226.8" y="242.68" width="2.4" height="2.4" fill="#0f8080"/>
<text x="230.4" y="245.18" font-family="Liberation Sans, sans-serif" font-size="3.75" fill="#6a6a6a">Cyanobacteria</text>
<rect x="226.8" y="246.15" width="2.4" height="2.4" fill="#e3262e"/>
<text x="230.4" y="248.65" font-family="Liberation Sans, sans-serif" font-size="3.75" fill="#6a6a6a">Bacteroidetes</text>
<rect x="226.8" y="249.62" width="2.4" height="2.4" fill="#4a4aa0"/>
<text x="230.4" y="252.12" font-family="Liberation Sans, sans-serif" font-size="3.75" fill="#6a6a6a">Chloroflexi</text>
<rect x="226.8" y="253.09" width="2.4" height="2.4" fill="#a0186a"/>
<text x="230.4" y="255.59" font-family="Liberation Sans, sans-serif" font-size="3.75" fill="#6a6a6a">Verrucomicrobia</text>
<rect x="226.8" y="256.56" width="2.4" height="2.4" fill="#4f5f55"/>
<text x="230.4" y="259.06" font-family="Liberation Sans, sans-serif" font-size="3.75" fill="#6a6a6a">TM6</text>
<rect x="226.8" y="260.03" width="2.4" height="2.4" fill="#c8103c"/>
<text x="230.4" y="262.53" font-family="Liberation Sans, sans-serif" font-size="3.75" fill="#6a6a6a">Acidobacteria</text>
<rect x="226.8" y="263.50" width="2.4" height="2.4" fill="#b0661e"/>
<text x="230.4" y="266.00" font-family="Liberation Sans, sans-serif" font-size="3.75" fill="#6a6a6a">Others</text>
<rect x="288.00" y="266.16" width="8.1" height="87.64" fill="#2a4393"/>
<rect x="288.00" y="265.16" width="8.1" height="1.00" fill="#fe1a1a"/>
<rect x="288.00" y="264.28" width="8.1" height="0.88" fill="#0b8a45"/>
<rect x="288.00" y="257.27" width="8.1" height="7.01" fill="#62208a"/>
<rect x="288.00" y="256.02" width="8.1" height="1.25" fill="#4b4fa0"/>
<rect x="288.00" y="254.14" width="8.1" height="1.88" fill="#e0202a"/>
<rect x="288.00" y="253.77" width="8.1" height="0.38" fill="#b7305c"/>
<rect x="288.00" y="252.14" width="8.1" height="1.63" fill="#7a8a84"/>
<rect x="288.00" y="228.60" width="8.1" height="23.54" fill="#b7305c"/>
<rect x="299.63" y="257.40" width="8.1" height="96.40" fill="#2a4393"/>
<rect x="299.63" y="255.89" width="8.1" height="1.50" fill="#4b4fa0"/>
<rect x="299.63" y="250.13" width="8.1" height="5.76" fill="#62208a"/>
<rect x="299.63" y="248.51" width="8.1" height="1.63" fill="#12807c"/>
<rect x="299.63" y="246.75" width="8.1" height="1.75" fill="#e0202a"/>
<rect x="299.63" y="246.00" width="8.1" height="0.75" fill="#7a8a84"/>
<rect x="299.63" y="244.75" width="8.1" height="1.25" fill="#b7305c"/>
<rect x="299.63" y="244.12" width="8.1" height="0.63" fill="#7a8a84"/>
<rect x="299.63" y="243.12" width="8.1" height="1.00" fill="#8a2a8a"/>
<rect x="299.63" y="228.60" width="8.1" height="14.52" fill="#b7305c"/>
<rect x="311.26" y="279.18" width="8.1" height="74.62" fill="#2a4393"/>
<rect x="311.26" y="278.55" width="8.1" height="0.63" fill="#c07830"/>
<rect x="311.26" y="277.80" width="8.1" height="0.75" fill="#0b8a45"/>
<rect x="311.26" y="228.60" width="8.1" height="49.20" fill="#b7305c"/>
<rect x="322.89" y="335.15" width="8.1" height="18.65" fill="#2a4393"/>
<rect x="322.89" y="228.60" width="8.1" height="106.55" fill="#b7305c"/>
<rect x="334.52" y="274.05" width="8.1" height="79.75" fill="#2a4393"/>
<rect x="334.52" y="269.54" width="8.1" height="4.51" fill="#fe1a1a"/>
<rect x="334.52" y="266.66" width="8.1" height="2.88" fill="#12807c"/>
<rect x="334.52" y="228.60" width="8.1" height="38.06" fill="#b7305c"/>
<rect x="346.15" y="297.84" width="8.1" height="55.96" fill="#2a4393"/>
<rect x="346.15" y="297.08" width="8.1" height="0.75" fill="#fe1a1a"/>
<rect x="346.15" y="295.71" width="8.1" height="1.38" fill="#7a8a84"/>
<rect x="346.15" y="228.60" width="8.1" height="67.11" fill="#b7305c"/>
<rect x="357.78" y="251.39" width="8.1" height="102.41" fill="#2a4393"/>
<rect x="357.78" y="228.60" width="8.1" height="22.79" fill="#b7305c"/>
<rect x="369.41" y="286.19" width="8.1" height="67.61" fill="#2a4393"/>
<rect x="369.41" y="284.69" width="8.1" height="1.50" fill="#fe1a1a"/>
<rect x="369.41" y="284.19" width="8.1" height="0.50" fill="#b7305c"/>
<rect x="369.41" y="280.93" width="8.1" height="3.26" fill="#12807c"/>
<rect x="369.41" y="279.18" width="8.1" height="1.75" fill="#b7305c"/>
<rect x="369.41" y="277.55" width="8.1" height="1.63" fill="#7a8a84"/>
<rect x="369.41" y="228.60" width="8.1" height="48.95" fill="#b7305c"/>
<rect x="381.04" y="240.12" width="8.1" height="113.68" fill="#2a4393"/>
<rect x="381.04" y="239.74" width="8.1" height="0.38" fill="#12807c"/>
<rect x="381.04" y="236.49" width="8.1" height="3.26" fill="#0b8a45"/>
<rect x="381.04" y="228.60" width="8.1" height="7.89" fill="#b7305c"/>
<rect x="392.67" y="306.47" width="8.1" height="47.33" fill="#2a4393"/>
<rect x="392.67" y="272.17" width="8.1" height="34.30" fill="#fe1a1a"/>
<rect x="392.67" y="270.17" width="8.1" height="2.00" fill="#7a8a84"/>
<rect x="392.67" y="268.66" width="8.1" height="1.50" fill="#12807c"/>
<rect x="392.67" y="267.66" width="8.1" height="1.00" fill="#62208a"/>
<rect x="392.67" y="266.66" width="8.1" height="1.00" fill="#7a8a84"/>
<rect x="392.67" y="228.60" width="8.1" height="38.06" fill="#b7305c"/>
<rect x="404.30" y="255.52" width="8.1" height="98.28" fill="#2a4393"/>
<rect x="404.30" y="245.88" width="8.1" height="9.64" fill="#0b8a45"/>
<rect x="404.30" y="228.60" width="8.1" height="17.28" fill="#b7305c"/>
<rect x="415.93" y="276.18" width="8.1" height="77.62" fill="#2a4393"/>
<rect x="415.93" y="274.05" width="8.1" height="2.13" fill="#c07830"/>
<rect x="415.93" y="228.60" width="8.1" height="45.45" fill="#b7305c"/>
<rect x="427.56" y="278.55" width="8.1" height="75.25" fill="#2a4393"/>
<rect x="427.56" y="277.80" width="8.1" height="0.75" fill="#2b4a8a"/>
<rect x="427.56" y="276.80" width="8.1" height="1.00" fill="#12807c"/>
<rect x="427.56" y="274.30" width="8.1" height="2.50" fill="#7a8a84"/>
<rect x="427.56" y="273.67" width="8.1" height="0.63" fill="#c07830"/>
<rect x="427.56" y="228.60" width="8.1" height="45.07" fill="#b7305c"/>
<rect x="439.19" y="279.18" width="8.1" height="74.62" fill="#2a4393"/>
<rect x="439.19" y="277.68" width="8.1" height="1.50" fill="#12807c"/>
<rect x="439.19" y="228.60" width="8.1" height="49.08" fill="#b7305c"/>
<rect x="450.82" y="260.03" width="8.1" height="93.77" fill="#2a4393"/>
<rect x="450.82" y="257.65" width="8.1" height="2.38" fill="#0b8a45"/>
<rect x="450.82" y="257.15" width="8.1" height="0.50" fill="#12807c"/>
<rect x="450.82" y="228.60" width="8.1" height="28.55" fill="#b7305c"/>
<rect x="462.45" y="289.57" width="8.1" height="64.23" fill="#2a4393"/>
<rect x="462.45" y="287.82" width="8.1" height="1.75" fill="#0b8a45"/>
<rect x="462.45" y="286.69" width="8.1" height="1.13" fill="#62208a"/>
<rect x="462.45" y="281.18" width="8.1" height="5.51" fill="#c8305a"/>
<rect x="462.45" y="279.81" width="8.1" height="1.38" fill="#62208a"/>
<rect x="462.45" y="228.60" width="8.1" height="51.21" fill="#b7305c"/>
<rect x="474.08" y="273.67" width="8.1" height="80.13" fill="#2a4393"/>
<rect x="474.08" y="272.67" width="8.1" height="1.00" fill="#e0202a"/>
<rect x="474.08" y="271.67" width="8.1" height="1.00" fill="#62208a"/>
<rect x="474.08" y="228.60" width="8.1" height="43.07" fill="#b7305c"/>
<rect x="485.71" y="284.19" width="8.1" height="69.61" fill="#2a4393"/>
<rect x="485.71" y="282.31" width="8.1" height="1.88" fill="#a05a50"/>
<rect x="485.71" y="228.60" width="8.1" height="53.71" fill="#b7305c"/>
<line x1="284.3" y1="228.60" x2="284.3" y2="353.8" stroke="#bbb" stroke-width="0.5"/>
<line x1="284.3" y1="353.80" x2="285.1" y2="353.80" stroke="#bbb" stroke-width="0.5"/>
<text x="284.3" y="354.80" text-anchor="end" font-size="3.9" font-weight="bold" fill="#222">0</text>
<line x1="284.3" y1="341.28" x2="285.1" y2="341.28" stroke="#bbb" stroke-width="0.5"/>
<text x="284.3" y="342.28" text-anchor="end" font-size="3.9" font-weight="bold" fill="#222">10</text>
<line x1="284.3" y1="328.76" x2="285.1" y2="328.76" stroke="#bbb" stroke-width="0.5"/>
<text x="284.3" y="329.76" text-anchor="end" font-size="3.9" font-weight="bold" fill="#222">20</text>
<line x1="284.3" y1="316.24" x2="285.1" y2="316.24" stroke="#bbb" stroke-width="0.5"/>
<text x="284.3" y="317.24" text-anchor="end" font-size="3.9" font-weight="bold" fill="#222">30</text>
<line x1="284.3" y1="303.72" x2="285.1" y2="303.72" stroke="#bbb" stroke-width="0.5"/>
<text x="284.3" y="304.72" text-anchor="end" font-size="3.9" font-weight="bold" fill="#222">40</text>
<line x1="284.3" y1="291.20" x2="285.1" y2="291.20" stroke="#bbb" stroke-width="0.5"/>
<text x="284.3" y="292.20" text-anchor="end" font-size="3.9" font-weight="bold" fill="#222">50</text>
<line x1="284.3" y1="278.68" x2="285.1" y2="278.68" stroke="#bbb" stroke-width="0.5"/>
<text x="284.3" y="279.68" text-anchor="end" font-size="3.9" font-weight="bold" fill="#222">60</text>
<line x1="284.3" y1="266.16" x2="285.1" y2="266.16" stroke="#bbb" stroke-width="0.5"/>
<text x="284.3" y="267.16" text-anchor="end" font-size="3.9" font-weight="bold" fill="#222">70</text>
<line x1="284.3" y1="253.64" x2="285.1" y2="253.64" stroke="#bbb" stroke-width="0.5"/>
<text x="284.3" y="254.64" text-anchor="end" font-size="3.9" font-weight="bold" fill="#222">80</text>
<line x1="284.3" y1="241.12" x2="285.1" y2="241.12" stroke="#bbb" stroke-width="0.5"/>
<text x="284.3" y="242.12" text-anchor="end" font-size="3.9" font-weight="bold" fill="#222">90</text>
<line x1="284.3" y1="228.60" x2="285.1" y2="228.60" stroke="#bbb" stroke-width="0.5"/>
<text x="284.3" y="229.60" text-anchor="end" font-size="3.9" font-weight="bold" fill="#222">100</text>
<text transform="translate(275.6,281.8) rotate(-90)" text-anchor="middle" font-size="4.5" font-weight="bold" fill="#222" textLength="51.5" lengthAdjust="spacingAndGlyphs">Relative Abundance (%)</text>
<text x="294.25" y="357.4" text-anchor="middle" font-size="4.5" fill="#111" stroke="#111" stroke-width="0.1">ML1</text>
<text x="305.88" y="357.4" text-anchor="middle" font-size="4.5" fill="#111" stroke="#111" stroke-width="0.1">ML2</text>
<text x="317.51" y="357.4" text-anchor="middle" font-size="4.5" fill="#111" stroke="#111" stroke-width="0.1">ML3</text>
<text x="329.14" y="357.4" text-anchor="middle" font-size="4.5" fill="#111" stroke="#111" stroke-width="0.1">ML4</text>
<text x="340.77" y="357.4" text-anchor="middle" font-size="4.5" fill="#111" stroke="#111" stroke-width="0.1">ML5</text>
<text x="352.40" y="357.4" text-anchor="middle" font-size="4.5" fill="#111" stroke="#111" stroke-width="0.1">ML6</text>
<text x="364.03" y="357.4" text-anchor="middle" font-size="4.5" fill="#111" stroke="#111" stroke-width="0.1">MM1</text>
<text x="375.66" y="357.4" text-anchor="middle" font-size="4.5" fill="#111" stroke="#111" stroke-width="0.1">MM2</text>
<text x="387.29" y="357.4" text-anchor="middle" font-size="4.5" fill="#111" stroke="#111" stroke-width="0.1">MM3</text>
<text x="398.92" y="357.4" text-anchor="middle" font-size="4.5" fill="#111" stroke="#111" stroke-width="0.1">MM4</text>
<text x="410.55" y="357.4" text-anchor="middle" font-size="4.5" fill="#111" stroke="#111" stroke-width="0.1">MM5</text>
<text x="422.18" y="357.4" text-anchor="middle" font-size="4.5" fill="#111" stroke="#111" stroke-width="0.1">MM6</text>
<text x="433.81" y="357.4" text-anchor="middle" font-size="4.5" fill="#111" stroke="#111" stroke-width="0.1">MS1</text>
<text x="445.44" y="357.4" text-anchor="middle" font-size="4.5" fill="#111" stroke="#111" stroke-width="0.1">MS2</text>
<text x="457.07" y="357.4" text-anchor="middle" font-size="4.5" fill="#111" stroke="#111" stroke-width="0.1">MS3</text>
<text x="468.70" y="357.4" text-anchor="middle" font-size="4.5" fill="#111" stroke="#111" stroke-width="0.1">MS4</text>
<text x="480.33" y="357.4" text-anchor="middle" font-size="4.5" fill="#111" stroke="#111" stroke-width="0.1">MS5</text>
<text x="491.96" y="357.4" text-anchor="middle" font-size="4.5" fill="#111" stroke="#111" stroke-width="0.1">MS6</text>
<rect x="498.3" y="230.00" width="2.3" height="2.2" fill="#2a4393"/>
<text x="502.2" y="232.40" font-size="4.2" fill="#3a3a3a">Lactococcus</text>
<rect x="498.3" y="233.50" width="2.3" height="2.2" fill="#fe1a1a"/>
<text x="502.2" y="235.90" font-size="4.2" fill="#3a3a3a">Enterococcus</text>
<rect x="498.3" y="236.99" width="2.3" height="2.2" fill="#0b8a45"/>
<text x="502.2" y="239.39" font-size="4.2" fill="#3a3a3a">Prauserella</text>
<rect x="498.3" y="240.49" width="2.3" height="2.2" fill="#62208a"/>
<text x="502.2" y="242.89" font-size="4.2" fill="#3a3a3a">Aeromonas</text>
<rect x="498.3" y="243.99" width="2.3" height="2.2" fill="#12807c"/>
<text x="502.2" y="246.39" font-size="4.2" fill="#3a3a3a">Shewanella</text>
<rect x="498.3" y="247.48" width="2.3" height="2.2" fill="#e0202a"/>
<text x="502.2" y="249.88" font-size="4.2" fill="#3a3a3a">Rhodobacter</text>
<rect x="498.3" y="250.98" width="2.3" height="2.2" fill="#4b4fa0"/>
<text x="502.2" y="253.38" font-size="4.2" fill="#3a3a3a">Rubrobacter</text>
<rect x="498.3" y="254.48" width="2.3" height="2.2" fill="#b0186a"/>
<text x="502.2" y="256.88" font-size="4.2" fill="#3a3a3a">Acinetobacter</text>
<rect x="498.3" y="257.98" width="2.3" height="2.2" fill="#7a8a84"/>
<text x="502.2" y="260.38" font-size="4.2" fill="#3a3a3a">Exiguobacterium</text>
<rect x="498.3" y="261.47" width="2.3" height="2.2" fill="#cc3355"/>
<text x="502.2" y="263.87" font-size="4.2" fill="#3a3a3a">Synechococcus</text>
<rect x="498.3" y="264.97" width="2.3" height="2.2" fill="#c07830"/>
<text x="502.2" y="267.37" font-size="4.2" fill="#3a3a3a">Candidatus_Hepatoplasma</text>
<rect x="498.3" y="268.47" width="2.3" height="2.2" fill="#304a80"/>
<text x="502.2" y="270.87" font-size="4.2" fill="#3a3a3a">Clostridiaceae_Clostridium</text>
<rect x="498.3" y="271.96" width="2.3" height="2.2" fill="#2b4a8a"/>
<text x="502.2" y="274.36" font-size="4.2" fill="#3a3a3a">Allobaculum</text>
<rect x="498.3" y="275.46" width="2.3" height="2.2" fill="#a05a50"/>
<text x="502.2" y="277.86" font-size="4.2" fill="#3a3a3a">Mycobacterium</text>
<rect x="498.3" y="278.96" width="2.3" height="2.2" fill="#c8305a"/>
<text x="502.2" y="281.36" font-size="4.2" fill="#3a3a3a">Lactobacillus</text>
<rect x="498.3" y="282.45" width="2.3" height="2.2" fill="#8a2a8a"/>
<text x="502.2" y="284.86" font-size="4.2" fill="#3a3a3a">Corynebacterium</text>
<rect x="498.3" y="285.95" width="2.3" height="2.2" fill="#c05070"/>
<text x="502.2" y="288.35" font-size="4.2" fill="#3a3a3a">Staphylococcus</text>
<rect x="498.3" y="289.45" width="2.3" height="2.2" fill="#3a5a9a"/>
<text x="502.2" y="291.85" font-size="4.2" fill="#3a3a3a">Leucobacter</text>
<rect x="498.3" y="292.95" width="2.3" height="2.2" fill="#7a3a8a"/>
<text x="502.2" y="295.35" font-size="4.2" fill="#3a3a3a">Faecalibacterium</text>
<rect x="498.3" y="296.44" width="2.3" height="2.2" fill="#e07020"/>
<text x="502.2" y="298.84" font-size="4.2" fill="#3a3a3a">Chitinibacter</text>
<rect x="498.3" y="299.94" width="2.3" height="2.2" fill="#108040"/>
<text x="502.2" y="302.34" font-size="4.2" fill="#3a3a3a">Roseburia</text>
<rect x="498.3" y="303.44" width="2.3" height="2.2" fill="#5a2a8a"/>
<text x="502.2" y="305.84" font-size="4.2" fill="#3a3a3a">Bifidobacterium</text>
<rect x="498.3" y="306.93" width="2.3" height="2.2" fill="#3a6a6a"/>
<text x="502.2" y="309.33" font-size="4.2" fill="#3a3a3a">Bacteroides</text>
<rect x="498.3" y="310.43" width="2.3" height="2.2" fill="#e02020"/>
<text x="502.2" y="312.83" font-size="4.2" fill="#3a3a3a">Streptococcus</text>
<rect x="498.3" y="313.93" width="2.3" height="2.2" fill="#8a3a9a"/>
<text x="502.2" y="316.33" font-size="4.2" fill="#3a3a3a">Xanthomonas</text>
<rect x="498.3" y="317.42" width="2.3" height="2.2" fill="#b7305c"/>
<text x="502.2" y="319.82" font-size="4.2" fill="#3a3a3a">Others</text>
</svg>
</body></html>
